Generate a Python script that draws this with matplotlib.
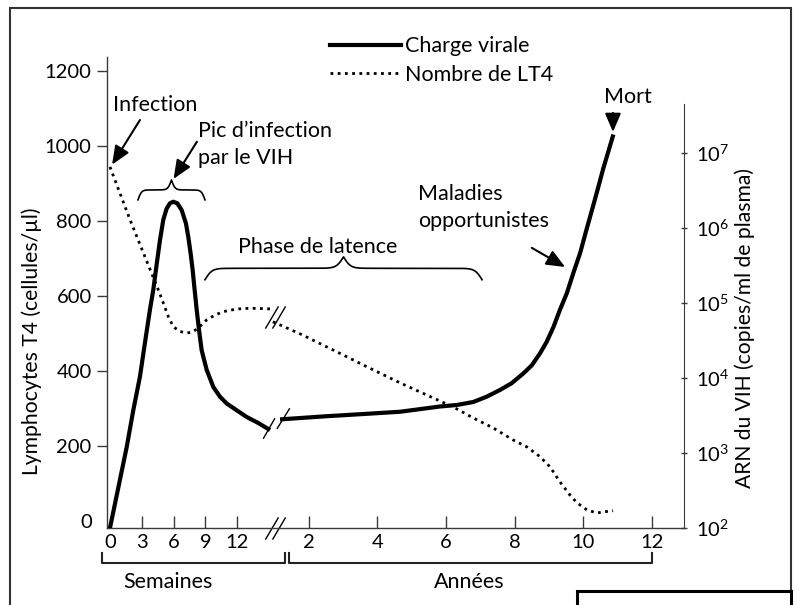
import numpy as np
import matplotlib.pyplot as plt
from matplotlib.path import Path
from matplotlib.patches import Rectangle
from matplotlib.ticker import NullLocator

plt.rcParams['font.family'] = ['Lato', 'DejaVu Sans']
plt.rcParams['font.size'] = 15.5
plt.rcParams['mathtext.fontset'] = 'custom'
plt.rcParams['mathtext.rm'] = 'Lato'

# charge virale, phase aigue (semaines, log10 copies/ml)
vl_weeks = [0, 1.58, 2.2, 2.83, 3.3, 3.77, 4.08, 4.41, 4.72, 5.03, 5.35, 5.66, 5.97, 6.35, 6.76,
            7.17, 7.39, 7.61, 7.8, 7.99, 8.18, 8.4, 8.65, 9.12, 9.75, 10.38, 11.01, 11.95, 12.9,
            13.99, 14.93]
vl_weeks_log = [2.0, 3.08, 3.57, 4.02, 4.47, 4.91, 5.17, 5.52, 5.84, 6.11, 6.26, 6.33, 6.35, 6.33,
                6.24, 6.06, 5.88, 5.66, 5.44, 5.17, 4.91, 4.64, 4.37, 4.11, 3.88, 3.75, 3.66, 3.57,
                3.48, 3.4, 3.32]
# charge virale, phase chronique (annees)
vl_years = [1.22, 2.5, 3.6, 4.66, 5.82, 6.31, 6.79, 7.18, 7.57, 7.91, 8.25, 8.5, 8.74, 8.93, 9.13,
            9.32, 9.52, 9.71, 9.91, 10.1, 10.29, 10.44, 10.58, 10.73, 10.86]
vl_years_log = [3.45, 3.49, 3.52, 3.55, 3.62, 3.64, 3.68, 3.75, 3.84, 3.93, 4.06, 4.17, 4.33, 4.48,
                4.68, 4.91, 5.13, 5.4, 5.67, 5.99, 6.3, 6.55, 6.79, 7.02, 7.22]

# LT4 (cellules/ul)
lt_weeks = [0, 1.89, 4.06, 4.56, 5.03, 5.5, 5.97, 6.6, 7.24, 7.71, 8.18, 8.65, 9.12, 9.91, 10.69,
            11.95, 13.21, 14.46, 15.25]
lt_weeks_val = [944, 803, 651, 616, 581, 545, 518, 505, 501, 503, 511, 523, 536, 549, 558, 565, 567,
                566, 565]
lt_years = [0.95, 1.74, 2.7, 3.69, 4.66, 5.62, 6.2, 6.78, 7.37, 7.95, 8.36, 8.74, 9.03, 9.32, 9.61,
            9.82, 10.11, 10.4, 10.58, 10.87]
lt_years_val = [531, 499, 456, 411, 368, 328, 304, 275, 248, 216, 197, 171, 144, 104, 69, 48, 29, 21,
                24, 27]

week_ticks = [0, 3, 6, 9, 12]
year_ticks = [2, 4, 6, 8, 10, 12]
lt_ticks = [0, 200, 400, 600, 800, 1000, 1200]
vl_exps = [2, 3, 4, 5, 6, 7]

# x axis in weeks; years are placed after the break
YR0, YR_SC = 12.29, 3.236


def yr(v):
    return YR0 + YR_SC * np.asarray(v, dtype=float)


def brace(ax, x0, x1, y0, h, beta):
    x = np.linspace(x0, x1, 401)
    half = x[:201]
    yh = 1 / (1 + np.exp(-beta * (half - half[0]))) + 1 / (1 + np.exp(-beta * (half - half[-1])))
    y = np.concatenate([yh, yh[-2::-1]])
    ax.plot(x, y0 + (y - 0.5) * h, color='k', lw=1.2, zorder=3)


fig = plt.figure(figsize=(7.97, 6.05), dpi=100)
ax = fig.add_axes([107 / 797, 1 - 528 / 605, 577 / 797, 471 / 605])
ax2 = ax.twinx()

ax.set_xlim(-0.28, 54.15)
ax.set_ylim(-19, 1237)
ax2.set_yscale('log')
ax2.set_ylim(1e2, 10 ** 8.28)

dot = (0, (1, 1.6))
l_lt, = ax.plot(lt_weeks, lt_weeks_val, color='k', lw=2, linestyle=dot)
ax.plot(yr(lt_years), lt_years_val, color='k', lw=2, linestyle=dot)
l_vl, = ax2.plot(vl_weeks, 10 ** np.array(vl_weeks_log), color='k', lw=3)
ax2.plot(yr(vl_years), 10 ** np.array(vl_years_log), color='k', lw=3)

# break marks
brk = Path([(-0.91, -1), (0.27, 1), (-0.27, -1), (0.91, 1)],
           [Path.MOVETO, Path.LINETO, Path.MOVETO, Path.LINETO])
brk2 = Path([(-0.87, -1), (-0.1, 0.35), (0.03, -0.35), (0.87, 1)],
            [Path.MOVETO, Path.LINETO, Path.MOVETO, Path.LINETO])
ax.plot([15.57], [-19], marker=brk, ms=16, mec='k', mew=1, ls='none', clip_on=False)
ax.plot([15.6], [545], marker=brk, ms=16, mec='k', mew=1, ls='none')
ax2.plot([15.7], [10 ** 3.4], marker=brk2, ms=22, mec='k', mew=1, ls='none')

# axes styling
spine_c = '#3a3a3a'
for s in ['top', 'right']:
    ax.spines[s].set_visible(False)
for s in ['top', 'left', 'bottom']:
    ax2.spines[s].set_visible(False)
for s in ['left', 'bottom']:
    ax.spines[s].set_color(spine_c)
    ax.spines[s].set_linewidth(1)
ax2.spines['right'].set_color(spine_c)
ax2.spines['right'].set_bounds(1e2, 10 ** 7.65)

ax.set_yticks(lt_ticks)
ax.tick_params(axis='y', direction='out', length=7, width=1, pad=4, color=spine_c, labelsize=14.5)
xt = list(week_ticks) + list(yr(year_ticks))
ax.set_xticks(xt, [str(v) for v in week_ticks] + [str(v) for v in year_ticks])
ax.tick_params(axis='x', direction='in', length=8.5, width=1, pad=4.5, color=spine_c, labelsize=14.5)
ax.xaxis.get_major_ticks()[0].tick1line.set_visible(False)
ax.yaxis.get_major_ticks()[0].tick1line.set_visible(False)

ax2.set_yticks([10.0 ** k for k in vl_exps], [r'$\mathregular{10^{%d}}$' % k for k in vl_exps])
ax2.yaxis.set_minor_locator(NullLocator())
ax2.tick_params(axis='y', direction='inout', length=5, width=1, pad=6, color=spine_c, labelsize=14.5)

ax.set_ylabel('Lymphocytes T4 (cellules/µl)', va='center', fontsize=15.2)
ax.yaxis.set_label_coords(-0.131, 0.397)
ax2.set_ylabel('ARN du VIH (copies/ml de plasma)', va='center', fontsize=15.2)
ax2.yaxis.set_label_coords(1.106, 0.425)

# brackets under the axis
ax.plot([-0.75, -0.75, 16.5, 16.5], [-85, -112, -112, -85], color='#222222', lw=1.5, clip_on=False)
ax.plot([16.9, 16.9, yr(12), yr(12)], [-85, -112, -112, -85], color='#222222', lw=1.5, clip_on=False)
ax.text(5.5, -163, 'Semaines', ha='center', va='center')
ax.text(yr(6.67), -163, 'Années', ha='center', va='center')

# annotations
aprops = dict(arrowstyle='-|>,head_length=0.75,head_width=0.32', color='k', lw=1.5,
              shrinkA=0, shrinkB=0, mutation_scale=15)
ax.text(0.28, 1109, 'Infection', ha='left', va='center')
ax.annotate('', xy=(0.2, 950), xytext=(2.83, 1069), arrowprops=aprops)
ax.text(8.3, 1003, 'Pic d’infection\npar le VIH', ha='left', va='center', linespacing=1.45)
ax.annotate('', xy=(6.0, 912), xytext=(8.2, 1011), arrowprops=aprops)
brace(ax, 2.64, 8.96, 856, 53, 6)
brace(ax, 8.96, 35.1, 643, 61, 3)
ax.text(19.6, 731, 'Phase de latence', ha='center', va='center')
ax.text(yr(5.18), 836, 'Maladies\nopportunistes', ha='left', va='center', linespacing=1.4)
ax.annotate('', xy=(yr(9.47), 677), xytext=(yr(8.5), 728), arrowprops=aprops)
ax.text(yr(11.3), 1131, 'Mort', ha='center', va='center')
ax.annotate('', xy=(47.45, 1037), xytext=(47.45, 1088), arrowprops=aprops)

ax2.legend([l_vl, l_lt], ['Charge virale', 'Nombre de LT4'], loc='center left',
           bbox_to_anchor=(330 / 797, 1 - 60.5 / 605), bbox_transform=fig.transFigure,
           frameon=False, handlelength=3.3, handletextpad=0.18, labelspacing=0.38,
           borderpad=0, borderaxespad=0)

# frame and bottom-right box
fig.patches.append(Rectangle((10 / 797, -0.05), 781 / 797, 1.05 - 8 / 605, transform=fig.transFigure,
                             fill=False, ec='#333333', lw=1.5))
fig.patches.append(Rectangle((577 / 797, -0.05), 214 / 797, 0.05 + 1 - 591 / 605, transform=fig.transFigure,
                             fc='white', ec='k', lw=2.2, zorder=5))

fig.savefig('out.png', dpi=100)
